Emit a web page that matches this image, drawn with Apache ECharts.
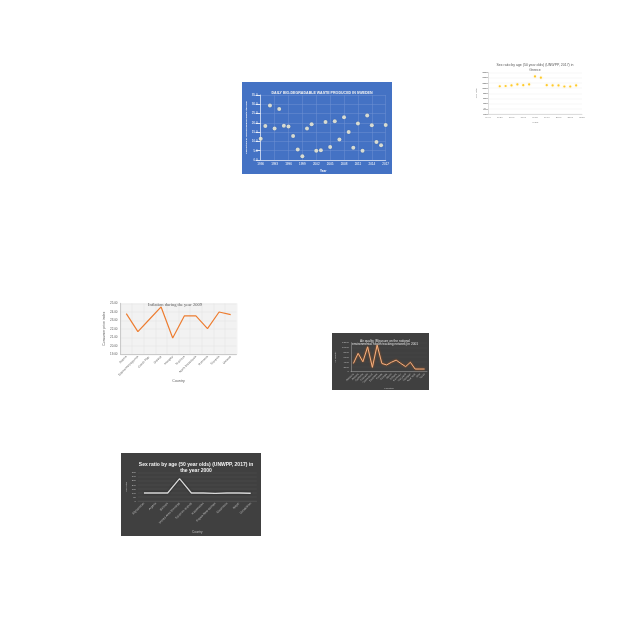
<!DOCTYPE html>
<html>
<head>
<meta charset="utf-8">
<script src="https://cdn.jsdelivr.net/npm/echarts@6/dist/echarts.min.js"></script>
<style>
  html, body { margin: 0; padding: 0; background: #fff; }
  #main { width: 640px; height: 640px; }
</style>
</head>
<body>
<div id="main"></div>
<script>
// daily bio-degradable waste, Sweden
var wasteYears = [1990, 1991, 1992, 1993, 1994, 1995, 1996, 1997, 1998, 1999, 2000, 2001, 2002, 2003,
    2004, 2005, 2006, 2007, 2008, 2009, 2010, 2011, 2012, 2013, 2014, 2015, 2016, 2017]
var wasteValues = [11.5, 18.3, 29.4, 16.9, 27.5, 18.5, 18.1, 12.9, 5.7, 2.0, 16.9, 19.2, 5.0, 5.2,
    20.5, 7.0, 20.8, 11.1, 23.0, 15.1, 6.6, 19.7, 5.0, 23.9, 18.7, 9.7, 7.9, 18.8]

// sex ratio, Greece
var greeceYears = [1950, 1955, 1960, 1965, 1970, 1975, 1980, 1985, 1990, 1995, 2000, 2005, 2010, 2015]
var greeceRatio = [107, 108, 110, 114, 111, 114, 145, 140, 111, 110, 110, 106, 106, 110]

// inflation 2009
var inflationCountries = ['Austria', 'Bosnia-Herzegovina', 'Czech Rep.', 'Greece', 'Hungary',
    'Moldova', 'North Macedonia', 'Romania', 'Slovenia', 'Ukraine']
var inflationValues = [23.78, 21.67, 23.12, 24.57, 20.92, 23.51, 23.51, 22.02, 23.98, 23.67]

// air quality 2001
var airStates = ['Alabama', 'Arizona', 'California', 'Colorado', 'Connecticut', 'Delaware', 'Florida',
    'Georgia', 'Illinois', 'Indiana', 'Kentucky', 'Maryland', 'Michigan', 'New York', 'Ohio', 'Texas']
var airValues = [3400, 7600, 4100, 10300, 1800, 11000, 3400, 2800, 3900, 4800, 3400, 2100, 3900, 1100, 1100, 1100]

// sex ratio 2000
var ratioCountries = ['Afghanistan', 'Algeria', 'Bahrain', 'United Arab Emirates', 'Solomon Islands',
    'Kazakhstan', 'Papua New Guinea', 'Mauritania', 'Nepal', 'Uzbekistan']
var ratioValues = [99, 99, 99, 276, 99, 99, 94, 99, 99, 96]

var sans = 'Liberation Sans'

function rect(x, y, w, h, color) {
    return { type: 'rect', z: -10, shape: { x: x, y: y, width: w, height: h }, style: { fill: color } }
}

function plain(v) {
    return String(v)
}

var myChart = echarts.init(document.getElementById('main'))

var option = {
    animation: false,
    backgroundColor: '#fff',
    graphic: [
        rect(242, 82, 150, 92, '#4472c4'),
        rect(120.5, 303.3, 116, 51, '#f2f2f2'),
        rect(332, 333, 97, 57, '#404040'),
        rect(121, 453, 140, 83, '#404040')
    ],
    title: [
        { text: 'DAILY BIO-DEGRADABLE WASTE PRODUCED IN SWEDEN', left: 317, top: 85.5, textAlign: 'center',
            textStyle: { color: '#f2f2f2', fontSize: 3.6, fontWeight: 'bold', fontFamily: sans } },
        { text: 'Sex ratio by age (50 year olds) (UNWPP, 2017) in\nGreece', left: 530, top: 58, textAlign: 'center',
            textStyle: { color: '#595959', fontSize: 3.5, lineHeight: 5, fontWeight: 'normal', fontFamily: sans } },
        { text: 'Inflation during the year 2009', left: 170, top: 297, textAlign: 'center',
            textStyle: { color: '#595959', fontSize: 4.5, fontWeight: 'normal', fontFamily: 'Liberation Serif' } },
        { text: 'Air quality (Measure on the national\nenvironmental health tracking network) in 2001', left: 380, top: 334, textAlign: 'center',
            textStyle: { color: '#e0e0e0', fontSize: 3.2, lineHeight: 3.6, fontWeight: 'normal', fontFamily: sans } },
        { text: 'Sex ratio by age (50 year olds) (UNWPP, 2017) in\nthe year 2000', left: 191, top: 456, textAlign: 'center',
            textStyle: { color: '#f2f2f2', fontSize: 5, lineHeight: 6.5, fontWeight: 'bold', fontFamily: sans } }
    ],
    grid: [
        { left: 260.7, top: 95, width: 125, height: 65 },
        { left: 488, top: 72.5, width: 94, height: 41.5 },
        { left: 120.5, top: 303.3, width: 116, height: 51 },
        { left: 351, top: 342.7, width: 76, height: 29 },
        { left: 138, top: 472.7, width: 118.7, height: 28.3 }
    ],
    xAxis: [
        { gridIndex: 0, type: 'value', min: 1990, max: 2017, interval: 3, name: 'Year', nameLocation: 'middle', nameGap: 10,
            nameTextStyle: { color: '#fff', fontSize: 3, fontWeight: 'bold' },
            axisLine: { lineStyle: { color: '#dbe4f5', width: 0.8 } }, axisTick: { show: false },
            axisLabel: { color: '#fff', fontSize: 3, margin: 3, formatter: plain },
            splitLine: { show: true, lineStyle: { color: '#6e90d2', width: 0.5 } } },
        { gridIndex: 1, type: 'value', min: 1940, max: 2020, interval: 10, name: 'Years', nameLocation: 'middle', nameGap: 7,
            nameTextStyle: { color: '#888', fontSize: 2.5 },
            axisLine: { lineStyle: { color: '#bfbfbf', width: 0.5 } }, axisTick: { show: false },
            axisLabel: { color: '#888', fontSize: 2.5, margin: 2, formatter: plain }, splitLine: { show: false } },
        { gridIndex: 2, type: 'category', data: inflationCountries, boundaryGap: true, name: 'Country', nameLocation: 'middle', nameGap: 21,
            nameTextStyle: { color: '#595959', fontSize: 3.5 },
            axisLine: { lineStyle: { color: '#bfbfbf', width: 0.8 } }, axisTick: { show: false },
            axisLabel: { color: '#595959', fontSize: 3, rotate: 45, margin: 2, interval: 0 },
            splitLine: { show: true, interval: 0, lineStyle: { color: '#dedede', width: 0.4 } } },
        { gridIndex: 3, type: 'category', data: airStates, boundaryGap: true, name: 'Location', nameLocation: 'middle', nameGap: 14,
            nameTextStyle: { color: '#bfbfbf', fontSize: 2.5 },
            axisLine: { lineStyle: { color: '#a6a6a6', width: 0.5 } }, axisTick: { show: false },
            axisLabel: { color: '#bfbfbf', fontSize: 2.5, rotate: 45, margin: 2, interval: 0 }, splitLine: { show: false } },
        { gridIndex: 4, type: 'category', data: ratioCountries, boundaryGap: true, name: 'Country', nameLocation: 'middle', nameGap: 30,
            nameTextStyle: { color: '#bfbfbf', fontSize: 3 },
            axisLine: { lineStyle: { color: '#595959', width: 0.5 } }, axisTick: { show: false },
            axisLabel: { color: '#bfbfbf', fontSize: 3, rotate: 45, margin: 2, interval: 0 }, splitLine: { show: false } }
    ],
    yAxis: [
        { gridIndex: 0, type: 'value', min: 0, max: 35, interval: 5, name: 'Production of bio-degradable waste (tonnes)',
            nameLocation: 'middle', nameGap: 12, nameTextStyle: { color: '#fff', fontSize: 2.5, fontWeight: 'bold' },
            axisLine: { show: true, lineStyle: { color: '#dbe4f5', width: 0.8 } },
            axisLabel: { color: '#fff', fontSize: 3, margin: 3, formatter: function (v) { return v.toFixed(1) } },
            splitLine: { lineStyle: { color: '#6e90d2', width: 0.5 } } },
        { gridIndex: 1, type: 'value', min: 0, max: 160, interval: 20, name: 'Sex ratio', nameLocation: 'middle', nameGap: 8,
            nameTextStyle: { color: '#888', fontSize: 2.5 },
            axisLine: { show: true, lineStyle: { color: '#bfbfbf', width: 0.5 } },
            axisLabel: { color: '#888', fontSize: 2.3, margin: 2 },
            splitLine: { lineStyle: { color: '#ececec', width: 0.4 } } },
        { gridIndex: 2, type: 'value', min: 19, max: 25, interval: 1, name: 'Consumer price index', nameLocation: 'middle', nameGap: 13,
            nameTextStyle: { color: '#595959', fontSize: 3.5 },
            axisLine: { show: true, lineStyle: { color: '#bfbfbf', width: 0.8 } },
            axisLabel: { color: '#595959', fontSize: 3, margin: 3, formatter: function (v) { return v.toFixed(2) } },
            splitLine: { lineStyle: { color: '#dedede', width: 0.4 } } },
        { gridIndex: 3, type: 'value', min: 0, max: 12000, interval: 2000, name: 'Air quality', nameLocation: 'middle', nameGap: 14,
            nameTextStyle: { color: '#bfbfbf', fontSize: 2.5 },
            axisLine: { show: true, lineStyle: { color: '#a6a6a6', width: 0.5 } },
            axisLabel: { color: '#bfbfbf', fontSize: 2.5, margin: 2, formatter: plain },
            splitLine: { lineStyle: { color: '#4d4d4d', width: 0.4 } } },
        { gridIndex: 4, type: 'value', min: 0, max: 350, interval: 50, name: 'Sex ratio', nameLocation: 'middle', nameGap: 8,
            nameTextStyle: { color: '#bfbfbf', fontSize: 2.5 },
            axisLine: { show: false }, axisLabel: { color: '#bfbfbf', fontSize: 2.5, margin: 2 },
            splitLine: { lineStyle: { color: '#595959', width: 0.4 } } }
    ],
    series: [
        { type: 'scatter', xAxisIndex: 0, yAxisIndex: 0, symbolSize: 4,
            itemStyle: { color: '#fffbe0', shadowColor: 'rgba(0,0,0,0.3)', shadowBlur: 1 },
            data: wasteYears.map(function (y, i) { return [y, wasteValues[i]] }) },
        { type: 'scatter', xAxisIndex: 1, yAxisIndex: 1, symbolSize: 2.2,
            itemStyle: { color: '#ffc000', shadowColor: 'rgba(255,192,0,0.5)', shadowBlur: 2 },
            data: greeceYears.map(function (y, i) { return [y, greeceRatio[i]] }) },
        { type: 'line', xAxisIndex: 2, yAxisIndex: 2, showSymbol: false, data: inflationValues,
            lineStyle: { color: '#ed7d31', width: 1.2 } },
        { type: 'line', xAxisIndex: 3, yAxisIndex: 3, showSymbol: false, data: airValues,
            lineStyle: { color: '#f4b183', width: 1, shadowColor: '#c55a11', shadowBlur: 2 } },
        { type: 'line', xAxisIndex: 4, yAxisIndex: 4, showSymbol: false, data: ratioValues,
            lineStyle: { color: '#d9d9d9', width: 1.3, shadowColor: 'rgba(0,0,0,0.6)', shadowBlur: 2 } }
    ]
}

myChart.setOption(option)
</script>
</body>
</html>
